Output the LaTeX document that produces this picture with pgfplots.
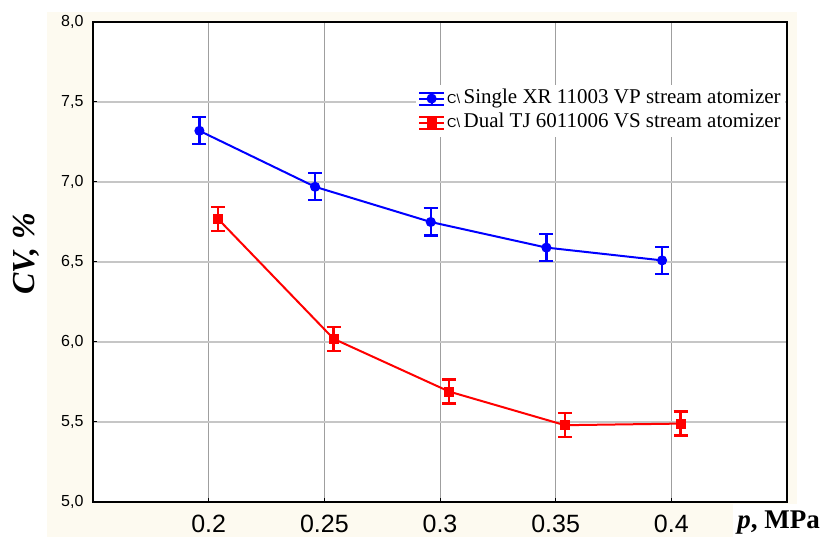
\documentclass[border=0pt]{standalone}
\usepackage{pgfplots}
\pgfplotsset{compat=1.18}
\usepackage{fontspec}
\setmainfont{Liberation Serif}
\newfontfamily\arial{Liberation Sans}
\newfontfamily\timesfont{Liberation Serif}
\definecolor{cream}{RGB}{253,250,240}
\newcommand\cmark{\begingroup\arial\fontsize{13}{13}\selectfont C\textbackslash\endgroup\,}

\begin{document}
\begin{tikzpicture}
% page = 825 x 537 px, 1pt per px; axis box lower-left at px (93,502)
\useasboundingbox (-93pt,-35pt) rectangle (732pt,502pt);
\fill[cream] (-46pt,-35pt) rectangle (704pt,490pt);
\fill[white] (640pt,-35pt) rectangle (732pt,-2pt);
\begin{axis}[
    scale only axis,
    width=694pt, height=480pt,
    xmin=0.15, xmax=0.45,
    ymin=5, ymax=8,
    xtick={0.2,0.25,0.3,0.35,0.4},
    ytick={5,5.5,6,6.5,7,7.5,8},
    axis background/.style={fill=white},
    axis line style={line width=2pt, black},
    tick align=inside,
    xtick pos=left, ytick pos=left,
    major tick length=4pt,
    tick style={black, line width=1pt},
    grid=major,
    x grid style={gray!75, line width=1pt},
    y grid style={gray!45, line width=1.2pt},
    /pgf/number format/assume math mode=true,
    xticklabel style={font=\arial\fontsize{25}{25}\selectfont, yshift=-10pt,
        /pgf/number format/.cd, fixed, precision=2},
    yticklabel style={font=\arial\fontsize{16}{16}\selectfont, xshift=-6pt,
        /pgf/number format/.cd, use comma, fixed, fixed zerofill, precision=1},
    ylabel={\bfseries\itshape CV, \%},
    ylabel style={at={(axis description cs:-0.0965,0.517)}, rotate=0, anchor=center,
        font=\timesfont\fontsize{32}{32}\selectfont},
    xlabel={\textbf{\textit{p}, MPa}},
    xlabel style={at={(axis description cs:0.988,-0.042)}, anchor=center,
        font=\timesfont\fontsize{27}{27}\selectfont},
    legend cell align=left,
    legend style={at={(axis description cs:0.997,0.870)}, anchor=north east,
        draw=none, fill=white, inner sep=2pt,
        font=\timesfont\fontsize{21}{24}\selectfont,
        nodes={text height=15pt, text depth=5pt, inner sep=2pt}},
    legend image code/.code={
        \draw[#1, mark=none, line width=2pt] (0pt,-6pt) -- (25pt,-6pt);
        \draw[#1, mark=none, line width=2pt] (0pt,6pt) -- (25pt,6pt);
        \draw[#1, mark=none, line width=2pt] (12.5pt,-6pt) -- (12.5pt,6pt);
        \draw[#1, mark repeat=2, mark phase=2] plot coordinates {(0pt,0pt) (12.5pt,0pt) (25pt,0pt)};
    },
]
\addplot[blue, line width=2pt, mark=*, mark size=4pt,
    error bars/.cd, y dir=both, y explicit,
    error bar style={line width=2.2pt, blue},
    error mark options={rotate=90, mark size=7pt, line width=2.2pt, blue}]
    coordinates {
    (0.196,7.32) +- (0,0.085)
    (0.246,6.97) +- (0,0.085)
    (0.296,6.75) +- (0,0.085)
    (0.346,6.59) +- (0,0.085)
    (0.396,6.51) +- (0,0.085)
};
\addlegendentry{\cmark Single XR 11003 VP stream atomizer}
\addplot[red, line width=2pt, mark=square*, mark size=4pt,
    error bars/.cd, y dir=both, y explicit,
    error bar style={line width=2.2pt, red},
    error mark options={rotate=90, mark size=7pt, line width=2.2pt, red}]
    coordinates {
    (0.204,6.77) +- (0,0.075)
    (0.254,6.02) +- (0,0.075)
    (0.304,5.69) +- (0,0.075)
    (0.354,5.48) +- (0,0.075)
    (0.404,5.49) +- (0,0.075)
};
\addlegendentry{\cmark Dual TJ 6011006 VS stream atomizer}
\end{axis}
\end{tikzpicture}
\end{document}
